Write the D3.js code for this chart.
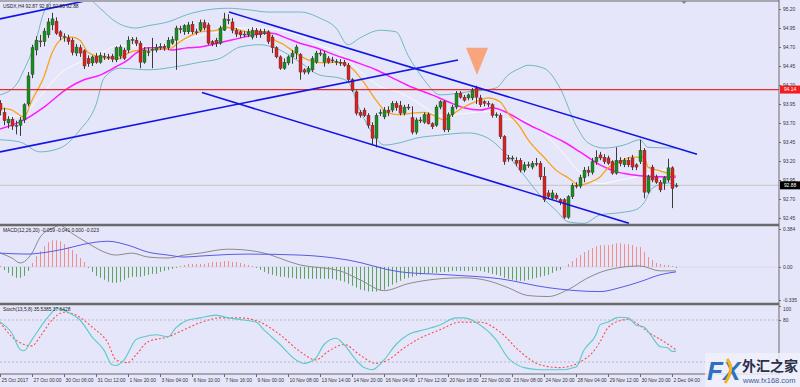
<!DOCTYPE html>
<html>
<head>
<meta charset="utf-8">
<script src="https://cdn.jsdelivr.net/npm/d3@7"></script>
<style>
  body { margin: 0; background: #e6e6fa; }
  text { font-family: "Liberation Sans", Arial, sans-serif; }
</style>
</head>
<body>
<svg id="chart" width="800" height="387"></svg>
<script>
// candles, H4: [open, high, low, close]
const candles = [
 [93.96,94.00,93.80,93.87],[93.84,93.90,93.67,93.73],[93.70,93.79,93.63,93.75],[93.75,93.78,93.61,93.66],
 [93.66,93.73,93.55,93.67],[93.67,93.78,93.53,93.74],[93.74,93.96,93.70,93.94],[93.95,94.37,93.92,94.32],
 [94.34,94.73,94.29,94.69],[94.66,94.84,94.59,94.79],[94.78,94.86,94.70,94.77],[94.77,94.95,94.71,94.91],
 [94.86,95.08,94.82,95.03],[94.99,95.15,94.92,95.07],[95.04,95.09,94.86,94.88],[94.90,94.92,94.79,94.84],
 [94.83,94.88,94.77,94.84],[94.82,94.86,94.73,94.77],[94.79,94.82,94.59,94.63],[94.62,94.74,94.58,94.70],
 [94.69,94.73,94.57,94.62],[94.65,94.67,94.41,94.45],[94.55,94.59,94.44,94.48],[94.49,94.59,94.45,94.57],
 [94.58,94.62,94.48,94.50],[94.50,94.63,94.48,94.59],[94.58,94.62,94.53,94.57],[94.57,94.61,94.53,94.56],
 [94.58,94.61,94.50,94.54],[94.53,94.71,94.50,94.69],[94.58,94.73,94.54,94.70],[94.66,94.69,94.53,94.55],
 [94.66,94.84,94.62,94.79],[94.79,94.83,94.74,94.80],[94.79,94.83,94.71,94.75],[94.75,94.78,94.42,94.50],
 [94.50,94.70,94.48,94.66],[94.63,94.69,94.58,94.64],[94.66,94.82,94.42,94.67],[94.66,94.74,94.63,94.70],
 [94.70,94.75,94.66,94.71],[94.71,94.74,94.65,94.69],[94.69,94.83,94.66,94.79],[94.75,94.84,94.73,94.80],
 [94.79,94.98,94.40,94.95],[94.94,94.98,94.88,94.93],[94.90,95.00,94.86,94.98],[94.90,95.03,94.87,94.99],
 [95.00,95.04,94.87,94.90],[94.90,94.94,94.86,94.89],[94.92,95.06,94.90,95.02],[95.02,95.06,94.92,94.95],
 [94.99,95.02,94.73,94.75],[94.77,94.79,94.71,94.74],[94.79,94.82,94.70,94.75],[94.75,94.98,94.73,94.95],
 [94.92,95.15,94.91,95.07],[95.06,95.13,95.00,95.05],[95.03,95.08,94.88,94.92],[94.92,94.95,94.83,94.87],
 [94.90,94.92,94.82,94.86],[94.87,94.91,94.83,94.86],[94.86,94.94,94.83,94.90],[94.83,94.96,94.80,94.92],
 [94.92,94.95,94.82,94.86],[94.91,94.94,94.82,94.86],[94.88,94.94,94.86,94.90],[94.90,94.92,94.74,94.77],
 [94.83,94.86,94.62,94.69],[94.69,94.71,94.55,94.57],[94.57,94.59,94.40,94.42],[94.42,94.55,94.40,94.50],
 [94.49,94.59,94.46,94.57],[94.57,94.66,94.48,94.62],[94.62,94.73,94.54,94.70],[94.60,94.62,94.27,94.37],
 [94.40,94.42,94.34,94.37],[94.37,94.45,94.34,94.42],[94.40,94.58,94.37,94.55],[94.50,94.65,94.48,94.62],
 [94.62,94.66,94.58,94.61],[94.50,94.65,94.44,94.61],[94.55,94.58,94.48,94.50],[94.53,94.57,94.49,94.52],
 [94.50,94.54,94.46,94.51],[94.50,94.54,94.45,94.49],[94.50,94.53,94.44,94.46],[94.46,94.49,94.24,94.27],
 [94.27,94.29,94.11,94.13],[94.11,94.13,93.80,93.83],[93.84,93.87,93.77,93.80],[93.87,93.90,93.78,93.80],
 [93.80,93.83,93.63,93.67],[93.67,93.71,93.41,93.50],[93.50,93.83,93.38,93.80],[93.83,93.88,93.79,93.84],
 [93.78,93.91,93.75,93.87],[93.87,93.92,93.79,93.84],[93.87,93.99,93.84,93.96],[93.96,93.99,93.86,93.90],
 [93.93,93.99,93.80,93.83],[93.83,93.94,93.80,93.91],[93.91,93.95,93.87,93.90],[93.77,93.92,93.55,93.58],
 [93.58,93.77,93.55,93.74],[93.74,93.78,93.70,93.73],[93.71,93.84,93.69,93.81],[93.81,93.84,93.68,93.69],
 [93.69,93.71,93.62,93.65],[93.67,93.94,93.65,93.91],[93.91,94.00,93.88,93.98],[93.98,94.00,93.58,93.61],
 [93.61,93.84,93.58,93.81],[93.81,93.94,93.78,93.91],[93.91,94.12,93.88,94.09],[94.09,94.12,94.02,94.04],
 [94.04,94.07,93.98,94.00],[94.03,94.09,94.00,94.07],[94.03,94.16,94.00,94.13],[94.16,94.19,93.95,94.04],
 [94.03,94.07,93.91,93.94],[93.98,94.00,93.92,93.96],[93.96,93.99,93.91,93.95],[93.94,93.96,93.77,93.80],
 [93.80,93.84,93.77,93.81],[93.80,93.83,93.49,93.52],[93.52,93.54,93.15,93.19],[93.24,93.28,93.19,93.23],
 [93.23,93.27,93.20,93.24],[93.21,93.25,93.13,93.17],[93.21,93.24,93.05,93.08],[93.08,93.19,93.05,93.15],
 [93.15,93.19,93.11,93.14],[93.12,93.20,93.09,93.17],[93.17,93.24,93.13,93.16],[93.17,93.20,92.95,92.99],
 [93.00,93.12,92.66,92.69],[92.78,92.82,92.70,92.73],[92.71,92.82,92.69,92.78],[92.75,92.78,92.69,92.71],
 [92.69,92.71,92.62,92.65],[92.69,92.71,92.44,92.46],[92.46,92.75,92.44,92.73],[92.73,92.91,92.70,92.88],
 [92.88,92.92,92.84,92.87],[92.87,93.02,92.84,92.98],[92.98,93.12,92.92,93.08],[93.08,93.13,93.00,93.05],
 [93.05,93.24,93.02,93.19],[93.19,93.34,93.15,93.25],[93.28,93.32,93.21,93.24],[93.25,93.29,93.16,93.19],
 [93.24,93.27,93.15,93.17],[93.19,93.21,93.02,93.04],[93.04,93.38,93.02,93.21],[93.21,93.25,93.13,93.17],
 [93.15,93.24,93.12,93.21],[93.21,93.25,93.12,93.15],[93.24,93.28,93.08,93.12],[93.15,93.17,93.08,93.12],
 [93.19,93.48,93.16,93.34],[93.34,93.37,92.71,92.79],[92.79,93.02,92.77,92.99],[93.12,93.15,92.92,92.95],
 [92.99,93.02,92.90,92.92],[92.92,92.95,92.79,92.82],[92.91,93.00,92.82,92.98],[92.95,93.23,92.92,93.11],
 [93.11,93.13,92.58,92.84],[92.87,92.91,92.85,92.88]
];

// indicator lines: [bar, value]
const bbUpper = [[0,94.07],[4,94.20],[6,94.40],[9,94.79],[11,95.16],[14,95.34],[17,95.38],[22,95.34],[25,95.21],
 [29,95.03],[34,94.95],[37,94.98],[42,95.03],[47,95.13],[52,95.19],[57,95.21],[62,95.19],[67,95.16],[75,95.16],
 [80,95.08],[84,94.95],[87,94.73],[90,94.82],[95,94.92],[99,94.90],[102,94.59],[106,94.27],[110,94.07],
 [117,94.11],[124,94.16],[127,94.33],[130,94.42],[132,94.46],[136,94.42],[140,94.16],[144,93.67],[147,93.44],
 [151,93.37],[156,93.41],[160,93.48],[162,93.38],[169,93.37]];
const bbLower = [[0,93.48],[5,93.45],[10,93.32],[15,93.37],[20,93.61],[24,93.94],[26,94.29],[30,94.42],
 [37,94.40],[45,94.45],[50,94.50],[55,94.55],[60,94.70],[65,94.73],[70,94.66],[75,94.50],[80,94.33],
 [85,94.29],[87,94.24],[90,93.87],[94,93.50],[96,93.41],[100,93.44],[104,93.50],[110,93.54],[117,93.57],
 [122,93.50],[126,93.32],[130,93.08],[135,92.75],[139,92.55],[142,92.40],[146,92.38],[150,92.49],
 [155,92.52],[159,92.56],[161,92.65],[163,92.84],[167,92.91],[169,92.88]];
const bbMiddle = [[0,93.78],[5,93.80],[10,94.05],[15,94.35],[20,94.50],[25,94.62],[30,94.72],[37,94.70],
 [45,94.78],[50,94.85],[55,94.90],[60,94.95],[65,94.95],[70,94.92],[75,94.85],[80,94.72],[85,94.62],
 [90,94.38],[95,94.18],[100,94.10],[105,93.95],[110,93.80],[117,93.83],[122,93.85],[126,93.75],
 [130,93.75],[135,93.60],[140,93.35],[145,93.05],[150,92.90],[155,92.95],[160,93.00],[165,93.08],[169,93.10]];
const maFast = [[0,93.90],[3,93.87],[6,93.78],[8,94.00],[11,94.31],[13,94.62],[16,94.82],[18,94.83],
 [20,94.79],[22,94.63],[25,94.57],[27,94.55],[30,94.55],[32,94.62],[35,94.66],[37,94.66],[40,94.67],
 [42,94.67],[45,94.77],[47,94.83],[50,94.90],[54,94.92],[56,94.96],[58,94.95],[62,94.90],[67,94.90],
 [68,94.82],[71,94.73],[74,94.62],[77,94.53],[81,94.49],[84,94.50],[87,94.46],[91,94.23],[94,94.00],
 [97,93.83],[100,93.81],[103,93.83],[106,93.84],[108,93.81],[111,93.74],[113,93.81],[116,93.91],
 [119,93.98],[122,94.03],[125,93.98],[127,93.83],[130,93.65],[132,93.48],[136,93.25],[139,93.08],
 [142,92.98],[145,92.88],[147,92.91],[150,92.99],[152,93.11],[155,93.19],[158,93.25],[161,93.25],
 [162,93.12],[165,93.07],[169,93.00]];
const maSlow = [[0,93.62],[6,93.74],[11,93.91],[17,94.16],[21,94.27],[25,94.33],[29,94.44],[32,94.53],
 [34,94.62],[37,94.69],[40,94.69],[43,94.66],[47,94.69],[50,94.70],[56,94.77],[61,94.83],[66,94.88],
 [68,94.88],[71,94.83],[75,94.75],[79,94.69],[84,94.59],[89,94.50],[94,94.40],[99,94.27],[103,94.17],
 [108,94.07],[112,93.98],[116,93.90],[120,93.87],[123,93.90],[127,93.83],[131,93.71],[136,93.58],
 [141,93.45],[145,93.32],[150,93.15],[154,93.06],[158,93.02],[162,93.00],[169,92.99]];

const macdHist = [
 0.01,-0.03,-0.06,-0.09,-0.11,-0.11,-0.09,-0.04,0.04,0.11,0.16,0.21,0.25,0.27,0.27,0.26,0.23,0.20,0.17,0.13,
 0.09,0.05,-0.01,-0.05,-0.09,-0.11,-0.13,-0.15,-0.16,-0.16,-0.15,-0.13,-0.11,-0.10,-0.10,-0.10,-0.09,-0.08,-0.07,-0.07,
 -0.05,-0.04,-0.03,-0.02,-0.01,0.01,0.02,0.03,0.03,0.03,0.03,
 0.03,0.04,0.05,0.05,0.05,0.06,0.06,0.05,0.05,0.04,0.03,0.02,0.01,
 -0.01,-0.03,-0.05,-0.07,-0.08,-0.09,-0.10,
 -0.10,-0.11,-0.11,-0.12,-0.12,-0.12,-0.12,-0.12,-0.12,-0.12,-0.12,-0.12,-0.12,-0.13,-0.14,-0.15,-0.17,-0.19,-0.21,-0.23,
 -0.24,-0.25,-0.25,-0.25,-0.24,-0.23,
 -0.20,-0.18,-0.16,-0.14,-0.12,-0.11,-0.10,-0.09,-0.08,-0.07,-0.07,-0.06,-0.06,-0.05,-0.05,-0.05,-0.04,-0.04,-0.04,-0.04,
 -0.04,-0.04,-0.04,-0.04,
 -0.05,-0.06,-0.07,-0.08,-0.09,-0.11,-0.12,-0.13,-0.14,-0.14,-0.14,-0.13,-0.12,-0.11,-0.10,-0.09,-0.08,-0.06,-0.04,
 -0.03,0.00,0.03,0.06,0.09,0.12,0.15,0.17,0.19,0.21,0.22,
 0.22,0.22,0.23,0.24,0.24,0.23,0.23,0.22,0.20,0.20,0.15,0.10,0.07,0.04,0.03,0.02,0.02,0.01,-0.01
];
const macdMain = [[0,0.14],[3,0.09],[5,0.04],[8,0.14],[10,0.30],[13,0.39],[15,0.42],[18,0.34],[22,0.24],
 [25,0.17],[29,0.12],[33,0.14],[37,0.10],[42,0.09],[46,0.12],[50,0.14],[57,0.18],[65,0.15],[75,0.02],
 [85,-0.04],[90,-0.13],[96,-0.24],[102,-0.17],[110,-0.12],[116,-0.11],[122,-0.14],[127,-0.21],[132,-0.29],
 [137,-0.30],[142,-0.23],[147,-0.11],[152,-0.03],[160,0.01],[165,-0.04],[169,-0.04]];
const macdSignal = [[0,0.14],[7,0.13],[10,0.14],[17,0.19],[21,0.23],[27,0.26],[32,0.22],[37,0.15],[42,0.12],
 [46,0.10],[50,0.11],[62,0.13],[75,0.12],[87,0.07],[100,-0.05],[112,-0.08],[125,-0.12],[137,-0.21],
 [150,-0.25],[155,-0.21],[160,-0.15],[165,-0.08],[169,-0.05]];

const stochMain = [[0,77],[3,61],[5,38],[6,36],[8,52],[11,77],[13,91],[14,97],[17,91],[20,80],[23,56],[26,37],
 [28,16],[29,15],[31,23],[34,52],[36,56],[39,59],[42,56],[44,69],[47,80],[50,83],[54,87],[57,83],[61,80],
 [64,77],[66,66],[70,45],[74,23],[76,18],[79,26],[81,45],[84,54],[86,45],[89,23],[91,12],[93,9],[96,23],
 [99,45],[102,59],[106,66],[110,73],[114,83],[116,83],[120,73],[124,52],[127,26],[131,12],[135,9],[140,9],
 [144,13],[146,37],[149,59],[150,73],[152,77],[154,83],[155,84],[157,83],[159,73],[161,70],[163,56],
 [165,42],[167,40],[168,35],[169,35.5]];
const stochSignal = [[0,77],[3,56],[6,45],[8,43],[10,56],[13,80],[16,91],[19,87],[23,70],[27,47],[29,23],
 [32,19],[34,30],[37,49],[42,56],[46,66],[50,76],[55,83],[60,83],[65,77],[70,59],[75,35],[79,23],[82,35],
 [86,45],[90,30],[94,18],[97,23],[101,40],[105,54],[110,66],[115,77],[120,77],[125,63],[130,35],[135,16],
 [140,12],[145,20],[149,40],[150,49],[152,69],[155,79],[157,81],[159,76],[162,63],[166,49],[169,37.6]];

// drawn objects: [bar, price]
const trendLines = [
  [[0,95.07],[22.5,95.32]],
  [[0,93.32],[114.5,94.53]],
  [[57.25,95.16],[174.25,93.29]],
  [[50.5,94.10],[157.25,92.38]]
];
const hLevel = 94.14;
const lastPrice = 92.88;
const arrowMark = { bar: 119.25, top: 94.69, tip: 94.33 };

const priceTicks = [95.20,94.95,94.70,94.45,94.20,93.95,93.70,93.45,93.20,92.95,92.70,92.45];
const macdTicks = [0.384, 0, -0.335];
const stochTicks = [100, 80];
const timeLabels = ["25 Oct 2017","27 Oct 00:00","30 Oct 06:00","31 Oct 12:00","1 Nov 20:00","3 Nov 04:00",
 "6 Nov 10:00","7 Nov 16:00","9 Nov 00:00","10 Nov 08:00","13 Nov 14:00","14 Nov 20:00","16 Nov 04:00",
 "17 Nov 12:00","20 Nov 18:00","22 Nov 00:00","23 Nov 08:00","24 Nov 20:00","28 Nov 04:00","29 Nov 12:00",
 "30 Nov 20:00","2 Dec 04:00"];

// layout
const W = 800, H = 387, axisX = 779;
const main = { top: 2, bottom: 224 }, macdP = { top: 226, bottom: 303 }, stochP = { top: 305, bottom: 374 };

const svg = d3.select("#chart");
svg.append("rect").attr("width", W).attr("height", H).attr("fill", "#e6e6fa");

const x = d3.scaleLinear().domain([0, 169]).range([0, 676]);
const y = d3.scaleLinear().domain([92.45, 95.20]).range([218, 9]);
const yM = d3.scaleLinear().domain([-0.335, 0.384]).range([300, 229]);
const yS = d3.scaleLinear().domain([20, 80]).range([362, 320]);

const defs = svg.append("defs");
[["clipMain", main], ["clipMacd", macdP], ["clipStoch", stochP]].forEach(([id, p]) => {
  defs.append("clipPath").attr("id", id).append("rect")
    .attr("x", 0).attr("y", p.top).attr("width", axisX).attr("height", p.bottom - p.top);
});

const gMain = svg.append("g").attr("clip-path", "url(#clipMain)");
const gMacd = svg.append("g").attr("clip-path", "url(#clipMacd)");
const gStoch = svg.append("g").attr("clip-path", "url(#clipStoch)");

const lineOf = (ys) => d3.line().x(d => x(d[0])).y(d => ys(d[1])).curve(d3.curveMonotoneX);

// bid line
gMain.append("line").attr("x1", 0).attr("x2", axisX).attr("y1", y(lastPrice)).attr("y2", y(lastPrice))
  .attr("stroke", "#c4c4c4").attr("stroke-width", 1);

// bollinger + MAs
gMain.append("path").datum(bbMiddle).attr("d", lineOf(y)).attr("fill", "none").attr("stroke", "#ffffff").attr("stroke-width", 0.8);
gMain.append("path").datum(bbUpper).attr("d", lineOf(y)).attr("fill", "none").attr("stroke", "#72b9c0").attr("stroke-width", 1);
gMain.append("path").datum(bbLower).attr("d", lineOf(y)).attr("fill", "none").attr("stroke", "#72b9c0").attr("stroke-width", 1);
gMain.append("path").datum(maSlow).attr("d", lineOf(y)).attr("fill", "none").attr("stroke", "#ff1aff").attr("stroke-width", 1.5);
gMain.append("path").datum(maFast).attr("d", lineOf(y)).attr("fill", "none").attr("stroke", "#f9a21b").attr("stroke-width", 1.3);

// red horizontal level
gMain.append("line").attr("x1", 0).attr("x2", axisX).attr("y1", y(hLevel)).attr("y2", y(hLevel))
  .attr("stroke", "#f02828").attr("stroke-width", 1.3);

// candles
const cw = 3;
const cg = gMain.append("g").selectAll("g").data(candles).join("g");
cg.append("line")
  .attr("x1", (d, i) => x(i) + 0.5).attr("x2", (d, i) => x(i) + 0.5)
  .attr("y1", d => y(d[1])).attr("y2", d => y(d[2]))
  .attr("stroke", "#3a3a3a").attr("stroke-width", 1);
cg.append("rect")
  .attr("x", (d, i) => x(i) - 1)
  .attr("y", d => y(Math.max(d[0], d[3])))
  .attr("width", cw)
  .attr("height", d => Math.max(1, Math.abs(y(d[0]) - y(d[3]))))
  .attr("fill", d => d[3] > d[0] ? "#17901a" : (d[3] < d[0] ? "#e01e1e" : "#3a3a3a"))
  .attr("stroke", "#3a3a3a").attr("stroke-width", 0.4);

// trend lines
gMain.selectAll(".trend").data(trendLines).join("line")
  .attr("x1", d => x(d[0][0])).attr("y1", d => y(d[0][1]))
  .attr("x2", d => x(d[1][0])).attr("y2", d => y(d[1][1]))
  .attr("stroke", "#1414e6").attr("stroke-width", 1.6);

// orange arrow
const ax = x(arrowMark.bar);
gMain.append("path")
  .attr("d", `M${ax - 11},${y(arrowMark.top)}L${ax + 11},${y(arrowMark.top)}L${ax},${y(arrowMark.tip)}Z`)
  .attr("fill", "#f8a47c");

// MACD
gMacd.append("line").attr("x1", 0).attr("x2", axisX).attr("y1", yM(0)).attr("y2", yM(0)).attr("stroke", "#d8d8ee");
gMacd.selectAll(".h").data(macdHist).join("line")
  .attr("x1", (d, i) => x(i) + 0.5).attr("x2", (d, i) => x(i) + 0.5)
  .attr("y1", yM(0)).attr("y2", d => yM(d))
  .attr("stroke", d => d >= 0 ? "#f28b8b" : "#5aa45a").attr("stroke-width", 1);
gMacd.append("path").datum(macdMain).attr("d", lineOf(yM)).attr("fill", "none").attr("stroke", "#8c8c8c").attr("stroke-width", 1);
gMacd.append("path").datum(macdSignal).attr("d", lineOf(yM)).attr("fill", "none").attr("stroke", "#5a5ae6").attr("stroke-width", 1);

// Stochastic
[80, 20].forEach(v => gStoch.append("line").attr("x1", 0).attr("x2", axisX).attr("y1", yS(v)).attr("y2", yS(v))
  .attr("stroke", "#b8b8c8").attr("stroke-dasharray", "2,2"));
gStoch.append("path").datum(stochSignal).attr("d", lineOf(yS)).attr("fill", "none").attr("stroke", "#ff4b4b")
  .attr("stroke-width", 1.1).attr("stroke-dasharray", "2,2");
gStoch.append("path").datum(stochMain).attr("d", lineOf(yS)).attr("fill", "none").attr("stroke", "#5cc9c9").attr("stroke-width", 1.1);

// frames
const frame = svg.append("g").attr("stroke", "#6a6a6a");
frame.append("line").attr("x1", 0).attr("x2", axisX).attr("y1", 1).attr("y2", 1).attr("stroke-width", 1);
frame.append("line").attr("x1", 0).attr("x2", axisX).attr("y1", 225).attr("y2", 225).attr("stroke-width", 2.5);
frame.append("line").attr("x1", 0).attr("x2", axisX).attr("y1", 304).attr("y2", 304).attr("stroke-width", 2.5);
frame.append("line").attr("x1", 0).attr("x2", axisX).attr("y1", 374).attr("y2", 374).attr("stroke-width", 1);
frame.append("line").attr("x1", axisX).attr("x2", axisX).attr("y1", 0).attr("y2", 375).attr("stroke-width", 1);

// axes
const fontSize = "4.9px";
const styleAxis = g => {
  g.select(".domain").remove();
  g.selectAll(".tick line").attr("stroke", "#6a6a6a");
  g.selectAll(".tick text").attr("fill", "#333").style("font-size", fontSize);
};
svg.append("g").attr("transform", `translate(${axisX},0)`)
  .call(d3.axisRight(y).tickValues(priceTicks).tickFormat(d3.format(".2f")).tickSize(2).tickPadding(2))
  .call(styleAxis);
svg.append("g").attr("transform", `translate(${axisX},0)`)
  .call(d3.axisRight(yM).tickValues(macdTicks).tickFormat(d => d === 0 ? "0.00" : String(d)).tickSize(2).tickPadding(2))
  .call(styleAxis);
const sAxis = svg.append("g").attr("transform", `translate(${axisX},0)`)
  .call(d3.axisRight(yS).tickValues(stochTicks).tickSize(2).tickPadding(2))
  .call(styleAxis);
sAxis.selectAll(".tick text").filter(d => d === 100).attr("dy", "0.32em").attr("y", 3);

const xAxis = svg.append("g").attr("transform", "translate(0,374)")
  .call(d3.axisBottom(x).tickValues(timeLabels.map((d, i) => i * 8)).tickFormat((d, i) => timeLabels[i]).tickSize(3).tickPadding(2))
  .call(styleAxis);
xAxis.selectAll(".tick text").attr("text-anchor", "start").attr("dx", "1");

// price tags
function tag(v, fill, color) {
  const g = svg.append("g").attr("transform", `translate(${axisX + 1},${y(v)})`);
  g.append("rect").attr("x", 0).attr("y", -4).attr("width", 20).attr("height", 8).attr("fill", fill);
  g.append("text").attr("x", 10).attr("y", 1.8).attr("text-anchor", "middle").attr("fill", color)
    .style("font-size", fontSize).text(v.toFixed(2));
}
tag(hLevel, "#f01e1e", "#fff");
tag(lastPrice, "#000", "#fff");

// chart shift marker
svg.append("path").attr("d", `M${x(171) - 3},1L${x(171) + 3},1L${x(171)},4Z`).attr("fill", "#8a8a8a");

// panel captions
svg.append("text").attr("x", 3).attr("y", 7.5).attr("fill", "#222").style("font-size", fontSize).text("USDX,H4  92.87 92.91 92.85 92.88");
svg.append("text").attr("x", 3).attr("y", 232).attr("fill", "#222").style("font-size", fontSize).text("MACD(12,26,20) -0.059 -0.041 0.000 -0.023");
svg.append("text").attr("x", 3).attr("y", 311).attr("fill", "#222").style("font-size", fontSize).text("Stoch(13,5,8) 35.5385 37.6428");

// watermark logo
const logo = svg.append("g").attr("transform", "translate(705,353)");
logo.append("rect").attr("x", 0).attr("y", 0).attr("width", 95).attr("height", 34).attr("fill", "#eef0fa").attr("opacity", 0.85);
logo.append("text").attr("x", 2).attr("y", 27).attr("fill", "#2f6fc0").style("font-size", "26px")
  .style("font-weight", "bold").style("font-style", "italic").text("FX");
logo.append("path").attr("d", "M22,6 Q30,16 20,30").attr("stroke", "#f5b21a").attr("stroke-width", 3).attr("fill", "none");
logo.append("text").attr("x", 37).attr("y", 18).attr("fill", "#2a2f4a").style("font-size", "14px").style("font-weight", "bold")
  .style("font-family", "'Noto Sans CJK SC', sans-serif").text("外汇之家");
logo.append("text").attr("x", 38).attr("y", 30).attr("fill", "#3a5a9a").style("font-size", "7.5px").text("www.fx168.com");
</script>
</body>
</html>
